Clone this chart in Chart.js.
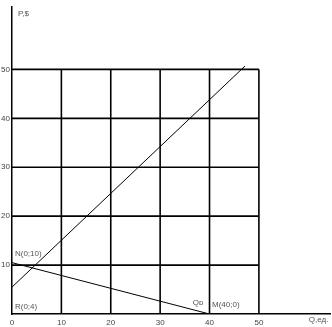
<!DOCTYPE html>
<html>
<head>
<meta charset="utf-8">
<script src="https://cdn.jsdelivr.net/npm/chart.js@4/dist/chart.umd.min.js"></script>
<style>
  html, body { margin: 0; padding: 0; background: #fff; }
  #wrap { width: 332px; height: 327px; }
</style>
</head>
<body>
<div id="wrap"><canvas id="chart"></canvas></div>
<script>
const xTicks = [0, 10, 20, 30, 40, 50];
const yTicks = [10, 20, 30, 40, 50];
const gridValues = [10, 20, 30, 40, 50];
const gridLimit = 50;

// supply line (from R) and demand line (N -> M)
const supplyQ = [0, 47.2];
const supplyP = [5.5, 50.7];
const demandQ = [0, 40];
const demandP = [10.5, 0];

const notes = [
    { text: 'P,$', q: 1.2, p: 61.3 },
    { text: 'N(0;10)', q: 0.6, p: 12.3 },
    { text: 'R(0;4)', q: 0.6, p: 1.5 },
    { text: 'Qᴅ', q: 36.6, p: 2.3 },
    { text: 'M(40;0)', q: 40.5, p: 1.9 },
    { text: 'Q,ед.', q: 60.1, p: -1.1 }
];

const toPoints = (xs, ys) => xs.map((x, i) => ({ x: x, y: ys[i] }));

const gridSets = [];
gridValues.forEach(v => {
    gridSets.push({ data: toPoints([v, v], [0, gridLimit]), borderColor: '#000', borderWidth: 1.6 });
    gridSets.push({ data: toPoints([0, gridLimit], [v, v]), borderColor: '#000', borderWidth: 1.6 });
});

const notesPlugin = {
    id: 'notes',
    afterDraw(chart) {
        const ctx = chart.ctx;
        const xs = chart.scales.x, ys = chart.scales.y;
        ctx.save();
        ctx.font = '8px "Liberation Sans", Arial, sans-serif';
        ctx.fillStyle = '#555';
        ctx.textAlign = 'left';
        ctx.textBaseline = 'middle';
        notes.forEach(n => {
            ctx.fillText(n.text, xs.getPixelForValue(n.q), ys.getPixelForValue(n.p));
        });
        ctx.restore();
    }
};

const tickFont = { size: 8, family: '"Liberation Sans", Arial, sans-serif' };

new Chart(document.getElementById('chart'), {
    type: 'scatter',
    data: {
        datasets: gridSets.concat([
            { data: toPoints(supplyQ, supplyP), borderColor: '#000', borderWidth: 1 },
            { data: toPoints(demandQ, demandP), borderColor: '#000', borderWidth: 1 }
        ])
    },
    options: {
        responsive: true,
        maintainAspectRatio: false,
        animation: false,
        showLine: true,
        elements: { point: { radius: 0, hoverRadius: 0 }, line: { tension: 0 } },
        layout: { padding: { top: 5, right: 2, left: 0, bottom: 0 } },
        plugins: { legend: { display: false }, tooltip: { enabled: false } },
        scales: {
            x: {
                type: 'linear',
                min: 0,
                max: 64.4,
                grid: { display: false, drawTicks: false },
                border: { display: true, color: '#000', width: 1.5 },
                afterBuildTicks: axis => { axis.ticks = xTicks.map(v => ({ value: v })); },
                afterFit: axis => { axis.height = 13; },
                ticks: { padding: 4, color: '#444', font: tickFont, maxRotation: 0, autoSkip: false }
            },
            y: {
                type: 'linear',
                min: 0,
                max: 62.8,
                grid: { display: false, drawTicks: false },
                border: { display: true, color: '#000', width: 1.5 },
                afterBuildTicks: axis => { axis.ticks = yTicks.map(v => ({ value: v })); },
                afterFit: axis => { axis.width = 12; },
                ticks: { padding: 2, color: '#444', font: tickFont, autoSkip: false }
            }
        }
    },
    plugins: [notesPlugin]
});
</script>
</body>
</html>
